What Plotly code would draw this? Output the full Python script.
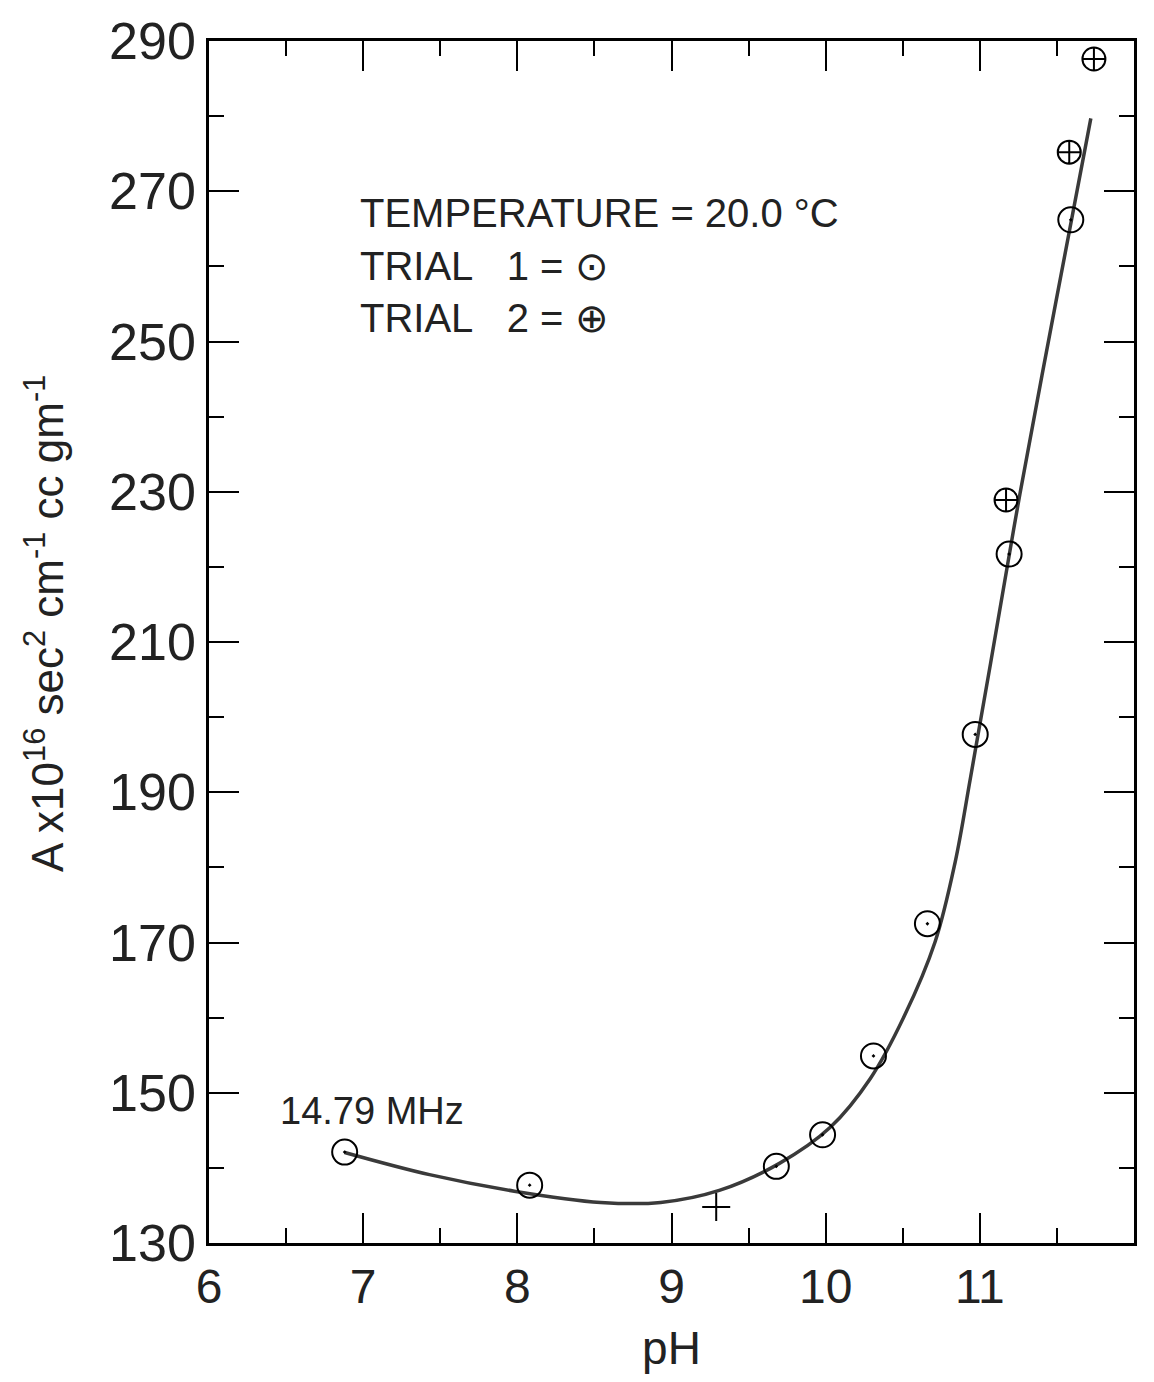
import plotly.graph_objects as go

# Trial 1 measurements (circle with centre dot)
trial1_ph = [6.88, 8.08, 9.68, 9.98, 10.31, 10.66, 10.97, 11.19, 11.59]
trial1_a = [142.1, 137.7, 140.2, 144.4, 154.9, 172.5, 197.7, 221.7, 266.2]

# Trial 2 measurements (circle with cross)
trial2_ph = [11.17, 11.58, 11.74]
trial2_a = [228.9, 275.2, 287.6]

# Isolated point marked with a plus sign
plus_ph = [9.29]
plus_a = [134.8]

# Smooth curve drawn through the data
curve_ph = [6.88, 7.43, 7.98, 8.54, 8.93, 9.31, 9.70, 10.03, 10.29, 10.51,
            10.71, 10.84, 10.94, 11.07, 11.26, 11.49, 11.72]
curve_a = [142.05, 139.1, 136.9, 135.4, 135.4, 137.0, 140.6, 145.4, 151.9,
           160.2, 170.1, 180.7, 192.0, 207.2, 229.7, 254.9, 279.7]

x_ticks = [6, 7, 8, 9, 10, 11, 12]
y_ticks = [130, 150, 170, 190, 210, 230, 250, 270, 290]

FONT = "Liberation Sans"
INK = "#222222"

# Plot-area geometry in pixels
W, H = 1154, 1382
ML, MR, MT, MB = 209, 20, 35, 139
PW, PH = W - ML - MR, H - MT - MB


def px_to_paper(px, py):
    return (px - ML) / PW, 1 - (py - MT) / PH


fig = go.Figure()

fig.add_trace(go.Scatter(
    x=curve_ph, y=curve_a, mode="lines",
    line=dict(color="#3a3a3a", width=3.5, shape="spline", smoothing=1.0),
    hoverinfo="skip", showlegend=False,
))

fig.add_trace(go.Scatter(
    x=trial1_ph, y=trial1_a, mode="markers", name="Trial 1",
    marker=dict(symbol="circle-open-dot", size=25, color="black",
                line=dict(width=2)),
    showlegend=False,
))

fig.add_trace(go.Scatter(
    x=trial2_ph, y=trial2_a, mode="markers", name="Trial 2",
    marker=dict(symbol="circle-cross-open", size=23, color="black",
                line=dict(width=2)),
    showlegend=False,
))

fig.add_trace(go.Scatter(
    x=plus_ph, y=plus_a, mode="markers",
    marker=dict(symbol="cross-thin-open", size=20, color="black",
                line=dict(width=2)),
    showlegend=False,
))

axis_common = dict(
    showgrid=False, zeroline=False,
    showline=True, linecolor="black", linewidth=2.5,
    mirror="ticks", ticks="inside", tickcolor="black", tickwidth=2,
    ticklen=30,
)

fig.update_xaxes(
    **axis_common,
    range=[6, 12], tickvals=x_ticks, ticktext=[str(v) for v in x_ticks],
    minor=dict(dtick=0.5, ticks="inside", ticklen=15, tickwidth=2,
               tickcolor="black", showgrid=False),
    tickfont=dict(family=FONT, size=48, color=INK),
    title=dict(text="pH", font=dict(family=FONT, size=46, color=INK),
               standoff=20),
)

fig.update_yaxes(
    **axis_common,
    range=[130, 290], tickvals=y_ticks, ticktext=[str(v) for v in y_ticks],
    minor=dict(dtick=10, ticks="inside", ticklen=15, tickwidth=2,
               tickcolor="black", showgrid=False),
    tickfont=dict(family=FONT, size=52, color=INK),
)

# Vertical axis title
tx, ty = px_to_paper(44, 621)
fig.add_annotation(
    x=tx, y=ty, xref="paper", yref="paper", textangle=-90,
    text="A x10<sup>16</sup> sec<sup>2</sup> cm<sup>-1</sup> cc gm<sup>-1</sup>",
    showarrow=False, xanchor="center", yanchor="middle",
    font=dict(family=FONT, size=44, color=INK),
)

# Conditions block
text_lines = [
    ("TEMPERATURE = 20.0 °C", 358, 208),
    ("TRIAL\u00a0\u00a0\u00a01 = ⊙", 358, 261),
    ("TRIAL\u00a0\u00a0\u00a02 = ⊕", 358, 313),
]
for txt, px, py in text_lines:
    ax, ay = px_to_paper(px, py)
    fig.add_annotation(
        x=ax, y=ay, xref="paper", yref="paper",
        text=txt, showarrow=False, xanchor="left", yanchor="middle",
        font=dict(family=FONT, size=40, color=INK),
    )

fig.add_annotation(
    x=7.06, y=147.6, text="14.79 MHz", showarrow=False,
    xanchor="center", yanchor="middle",
    font=dict(family=FONT, size=38, color=INK),
)

fig.update_layout(
    width=W, height=H,
    margin=dict(l=ML, r=MR, t=MT, b=MB),
    paper_bgcolor="white", plot_bgcolor="white",
    showlegend=False,
)

fig.write_html("out.html")
